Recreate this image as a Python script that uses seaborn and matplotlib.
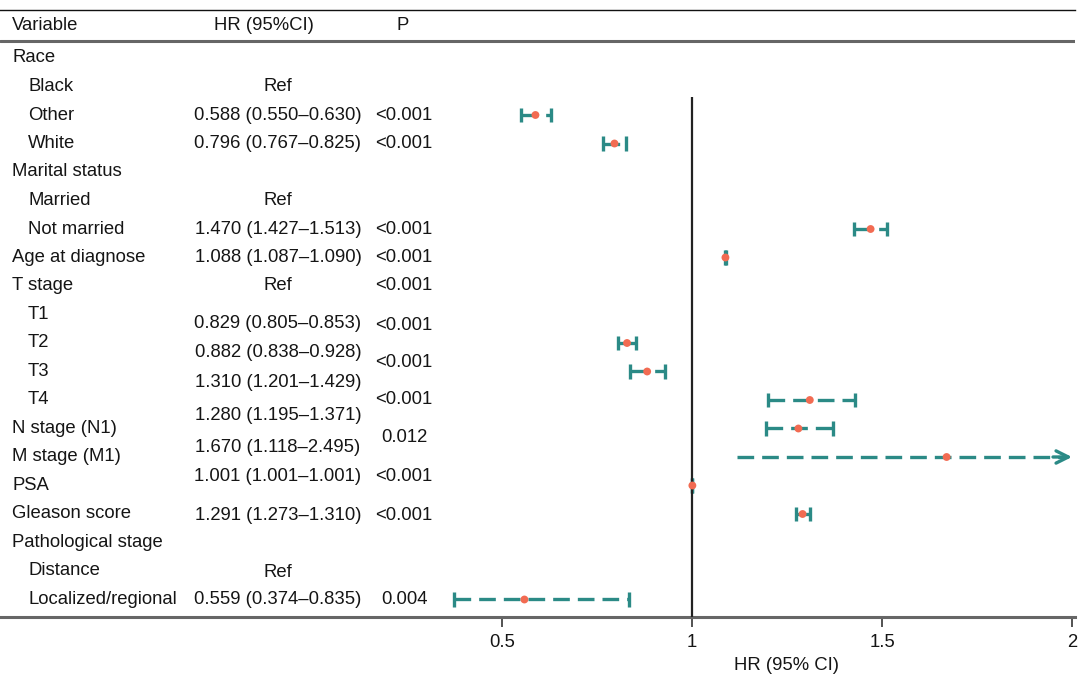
import pandas as pd
import matplotlib
matplotlib.use("Agg")
import matplotlib.pyplot as plt
import seaborn as sns

# --- data ---
labels = ["Race", "Black", "Other", "White", "Marital status", "Married",
          "Not married", "Age at diagnose", "T stage", "T1", "T2", "T3", "T4",
          "N stage (N1)", "M stage (M1)", "PSA", "Gleason score",
          "Pathological stage", "Distance", "Localized/regional"]
indent = [0, 1, 1, 1, 0, 1, 1, 0, 0, 1, 1, 1, 1, 0, 0, 0, 0, 0, 1, 1]

hr_texts = ["Ref", "0.588 (0.550\u20130.630)", "0.796 (0.767\u20130.825)", "Ref",
            "1.470 (1.427\u20131.513)", "1.088 (1.087\u20131.090)", "Ref",
            "0.829 (0.805\u20130.853)", "0.882 (0.838\u20130.928)",
            "1.310 (1.201\u20131.429)", "1.280 (1.195\u20131.371)",
            "1.670 (1.118\u20132.495)", "1.001 (1.001\u20131.001)",
            "1.291 (1.273\u20131.310)", "Ref", "0.559 (0.374\u20130.835)"]
hr_text_rows = [1, 2, 3, 5, 6, 7, 8, 9.33, 10.35, 11.37, 12.56, 13.65, 14.7,
                16.04, 18.07, 19.0]

p_texts = ["<0.001", "<0.001", "<0.001", "<0.001", "<0.001", "<0.001",
           "<0.001", "<0.001", "0.012", "<0.001", "<0.001", "0.004"]
p_text_rows = [2, 3, 6, 7, 8, 9.4, 10.7, 12.0, 13.33, 14.7, 16.04, 19.0]

hr = [0.588, 0.796, 1.470, 1.088, 0.829, 0.882, 1.310, 1.280, 1.670, 1.001, 1.291, 0.559]
lo = [0.550, 0.767, 1.427, 1.087, 0.805, 0.838, 1.201, 1.195, 1.118, 1.001, 1.273, 0.374]
hi = [0.630, 0.825, 1.513, 1.090, 0.853, 0.928, 1.429, 1.371, 2.495, 1.001, 1.310, 0.835]
point_rows = [2, 3, 6, 7, 10, 11, 12, 13, 14, 15, 16, 19]

ticks = [0.5, 1, 1.5, 2]

# --- style ---
sns.set_theme(style="white")
plt.rcParams['font.family'] = ['Liberation Sans', 'DejaVu Sans']
FS = 13.3
txt_col = "#151515"
teal = "#2b8a86"
coral = "#f26b52"

# pixel layout helpers (row r -> 58 + 28.5 r px, x: 1 -> 692 px, 380 px per unit)
W, H = 1081, 680
ax_right_px = 1075
x_left = 1 - 692 / 380
x_right = 1 + (ax_right_px - 692) / 380
r_top = (10 - 58) / 28.5
r_bot = (617 - 58) / 28.5

fig = plt.figure(figsize=(W / 100, H / 100), dpi=100)
ax = fig.add_axes([0, 1 - 617 / H, ax_right_px / W, (617 - 10) / H])
ax.set_xlim(x_left, x_right)
ax.set_ylim(r_bot, r_top)

df = pd.DataFrame({"hr": hr, "lo": lo, "hi": hi, "row": point_rows})

# error bars (dashed, capped; arrow when the CI runs past the axis)
cap_h = 0.25
for _, d in df.iterrows():
    if d.hi > 2:
        ax.plot([d.lo, x_right - 0.03], [d.row, d.row], color=teal, lw=2.4,
                linestyle=(0, (5, 2.4)), dash_capstyle="butt", zorder=2)
        ax.annotate("", xy=(2.0, d.row), xytext=(1.95, d.row),
                    arrowprops=dict(arrowstyle="->", color=teal, lw=2.4,
                                    mutation_scale=22, shrinkA=0, shrinkB=0),
                    zorder=2)
    else:
        ax.plot([d.lo, d.hi], [d.row, d.row], color=teal, lw=2.4,
                linestyle=(0, (5, 2.4)), dash_capstyle="butt", zorder=2)
        ax.vlines([d.lo, d.hi], d.row - cap_h, d.row + cap_h, color=teal,
                  lw=2.4, zorder=2)

# reference line
ax.vlines(1, (97 - 58) / 28.5, r_bot, color="#222222", lw=1.6, zorder=3)

sns.scatterplot(data=df, x="hr", y="row", color=coral, s=32, edgecolor="none",
                zorder=4, ax=ax, legend=False)

# table text
tr = ax.get_yaxis_transform()
for lab, ind, r in zip(labels, indent, range(len(labels))):
    ax.text((28 if ind else 12) / ax_right_px, r, lab, transform=tr,
            ha="left", va="center", fontsize=FS, color=txt_col)
for t, r in zip(hr_texts, hr_text_rows):
    ax.text(278 / ax_right_px, r, t, transform=tr, ha="center", va="center",
            fontsize=FS, color=txt_col)
for t, r in zip(p_texts, p_text_rows):
    ax.text(404 / ax_right_px, r, t, transform=tr, ha="center", va="center",
            fontsize=FS, color=txt_col)

# header
hdr_r = (25 - 58) / 28.5
ax.text(12 / ax_right_px, hdr_r, "Variable", transform=tr, ha="left",
        va="center", fontsize=FS, color=txt_col)
ax.text(264 / ax_right_px, hdr_r, "HR (95%CI)", transform=tr, ha="center",
        va="center", fontsize=FS, color=txt_col)
ax.text(403 / ax_right_px, hdr_r, "P", transform=tr, ha="center",
        va="center", fontsize=FS, color=txt_col)
ax.axhline((41 - 58) / 28.5, color="#666666", lw=2.2)

# spines / axis
for s in ["left", "right"]:
    ax.spines[s].set_visible(False)
ax.spines["top"].set_color("#111111")
ax.spines["top"].set_linewidth(1.0)
ax.spines["bottom"].set_color("#666666")
ax.spines["bottom"].set_linewidth(2.2)
ax.set_xticks(ticks)
ax.set_xticklabels(["0.5", "1", "1.5", "2"])
ax.set_yticks([])
ax.set_xlabel("")
ax.set_ylabel("")
ax.tick_params(axis="x", bottom=True, length=7, width=1.3, color="#444444",
               pad=5, labelsize=FS, labelcolor=txt_col)

fig.text(786 / W, 1 - 665 / H, "HR (95% CI)", ha="center", va="center",
         fontsize=FS, color=txt_col)

fig.savefig("out.png", dpi=100)
